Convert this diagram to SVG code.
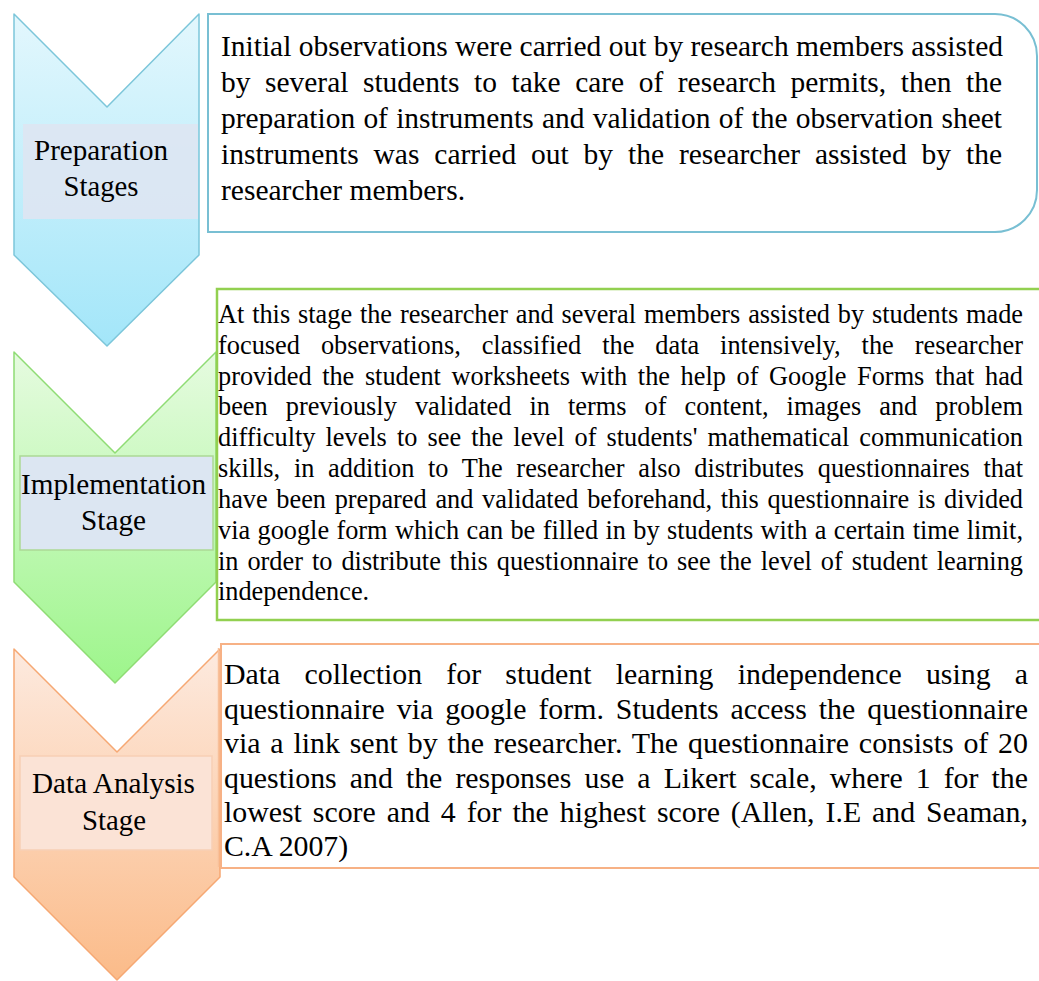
<svg xmlns="http://www.w3.org/2000/svg" width="1039" height="981" viewBox="0 0 1039 981">
  <defs>
    <linearGradient id="gBlue" x1="0" y1="0" x2="0" y2="1">
      <stop offset="0" stop-color="#e3f7fd"/>
      <stop offset="1" stop-color="#a3e6f9"/>
    </linearGradient>
    <linearGradient id="gGreen" x1="0" y1="0" x2="0" y2="1">
      <stop offset="0" stop-color="#e6fbe0"/>
      <stop offset="1" stop-color="#9df58b"/>
    </linearGradient>
    <linearGradient id="gOrange" x1="0" y1="0" x2="0" y2="1">
      <stop offset="0" stop-color="#fdeadf"/>
      <stop offset="1" stop-color="#fbbb89"/>
    </linearGradient>
    <style>
      text { font-family: 'Liberation Serif', 'Times New Roman', serif; fill: #000; }
      .lbl { font-size: 29px; text-anchor: middle; }
      .t1 { font-size: 29.5px; }
      .t2 { font-size: 26.3px; }
      .t3 { font-size: 29.8px; }
    </style>
  </defs>
  <rect width="1039" height="981" fill="#ffffff"/>

  <g id="connectors"></g>

  <g id="node-preparation">
    <polygon points="14,14 107,107 199,14 199,255 107,346 14,255" fill="url(#gBlue)" stroke="#7cc6da" stroke-width="1.5" stroke-linejoin="round"/>
    <rect x="23" y="124" width="175" height="95" fill="#dce6f2" opacity="0.95"/>
    <text class="lbl" x="101" y="160" textLength="134" lengthAdjust="spacingAndGlyphs">Preparation</text>
    <text class="lbl" x="101" y="196" textLength="75" lengthAdjust="spacingAndGlyphs">Stages</text>
  </g>
  <g id="box-preparation">
    <path d="M208,14 H995 A42,42 0 0 1 1037,56 V190 A42,42 0 0 1 995,232 H208 Z" fill="#ffffff" stroke="#78bfd3" stroke-width="2"/>
    <text class="t1" x="221" y="56" textLength="782" lengthAdjust="spacingAndGlyphs">Initial observations were carried out by research members assisted</text>
    <text class="t1" x="221" y="92" textLength="781" lengthAdjust="spacingAndGlyphs" word-spacing="7.2">by several students to take care of research permits, then the</text>
    <text class="t1" x="221" y="128" textLength="781" lengthAdjust="spacingAndGlyphs" word-spacing="0.9">preparation of instruments and validation of the observation sheet</text>
    <text class="t1" x="221" y="164" textLength="781" lengthAdjust="spacingAndGlyphs" word-spacing="7.5">instruments was carried out by the researcher assisted by the</text>
    <text class="t1" x="221" y="200">researcher members.</text>
  </g>

  <g id="node-implementation">
    <polygon points="14,352 115,453 216,352 216,582 115,683 14,582" fill="url(#gGreen)" stroke="#8fdc74" stroke-width="1.5" stroke-linejoin="round"/>
    <rect x="20" y="456" width="193" height="94" fill="#dce6f2" stroke="#acd995" stroke-width="1.5"/>
    <text class="lbl" x="113.5" y="494" textLength="185" lengthAdjust="spacingAndGlyphs">Implementation</text>
    <text class="lbl" x="113.5" y="530" textLength="65" lengthAdjust="spacingAndGlyphs">Stage</text>
  </g>
  <g id="box-implementation">
    <rect x="217" y="289" width="830" height="331" fill="#ffffff" stroke="#92d050" stroke-width="2.5"/>
    <text class="t2" x="218" y="323" textLength="805" lengthAdjust="spacingAndGlyphs" word-spacing="1.3">At this stage the researcher and several members assisted by students made</text>
    <text class="t2" x="218" y="353.5" textLength="805" lengthAdjust="spacingAndGlyphs" word-spacing="14.3">focused observations, classified the data intensively, the researcher</text>
    <text class="t2" x="218" y="384.5" textLength="805" lengthAdjust="spacingAndGlyphs" word-spacing="4">provided the student worksheets with the help of Google Forms that had</text>
    <text class="t2" x="218" y="415" textLength="805" lengthAdjust="spacingAndGlyphs" word-spacing="11.5">been previously validated in terms of content, images and problem</text>
    <text class="t2" x="218" y="446" textLength="805" lengthAdjust="spacingAndGlyphs" word-spacing="3.5">difficulty levels to see the level of students' mathematical communication</text>
    <text class="t2" x="218" y="477" textLength="805" lengthAdjust="spacingAndGlyphs" word-spacing="7.1">skills, in addition to The researcher also distributes questionnaires that</text>
    <text class="t2" x="218" y="507.5" textLength="805" lengthAdjust="spacingAndGlyphs" word-spacing="2.1">have been prepared and validated beforehand, this questionnaire is divided</text>
    <text class="t2" x="218" y="538.5" textLength="805" lengthAdjust="spacingAndGlyphs" word-spacing="0.8">via google form which can be filled in by students with a certain time limit,</text>
    <text class="t2" x="218" y="569.5" textLength="805" lengthAdjust="spacingAndGlyphs" word-spacing="2.4">in order to distribute this questionnaire to see the level of student learning</text>
    <text class="t2" x="218" y="600">independence.</text>
  </g>

  <g id="node-analysis">
    <polygon points="14,649 117,752 220,649 220,877 117,980 14,877" fill="url(#gOrange)" stroke="#f6a873" stroke-width="1.5" stroke-linejoin="round"/>
    <rect x="20" y="756" width="192" height="94" fill="#fbe3d6" stroke="#f7cfb5" stroke-width="1.5"/>
    <text class="lbl" x="113.5" y="793" textLength="163" lengthAdjust="spacingAndGlyphs">Data Analysis</text>
    <text class="lbl" x="114" y="830" textLength="64" lengthAdjust="spacingAndGlyphs">Stage</text>
  </g>
  <g id="box-analysis">
    <line x1="218.5" y1="648" x2="218.5" y2="867" stroke="#f8c09a" stroke-width="1.5"/>
    <rect x="221" y="644" width="830" height="224" fill="#ffffff" stroke="#f7b185" stroke-width="2"/>
    <text class="t3" x="224" y="684" textLength="804" lengthAdjust="spacingAndGlyphs" word-spacing="16.7">Data collection for student learning independence using a</text>
    <text class="t3" x="224" y="718.5" textLength="804" lengthAdjust="spacingAndGlyphs" word-spacing="4.5">questionnaire via google form. Students access the questionnaire</text>
    <text class="t3" x="224" y="753" textLength="804" lengthAdjust="spacingAndGlyphs" word-spacing="2.3">via a link sent by the researcher. The questionnaire consists of 20</text>
    <text class="t3" x="224" y="787.5" textLength="804" lengthAdjust="spacingAndGlyphs" word-spacing="5.6">questions and the responses use a Likert scale, where 1 for the</text>
    <text class="t3" x="224" y="822" textLength="804" lengthAdjust="spacingAndGlyphs" word-spacing="3.5">lowest score and 4 for the highest score (Allen, I.E and Seaman,</text>
    <text class="t3" x="224" y="856">C.A 2007)</text>
  </g>
</svg>
